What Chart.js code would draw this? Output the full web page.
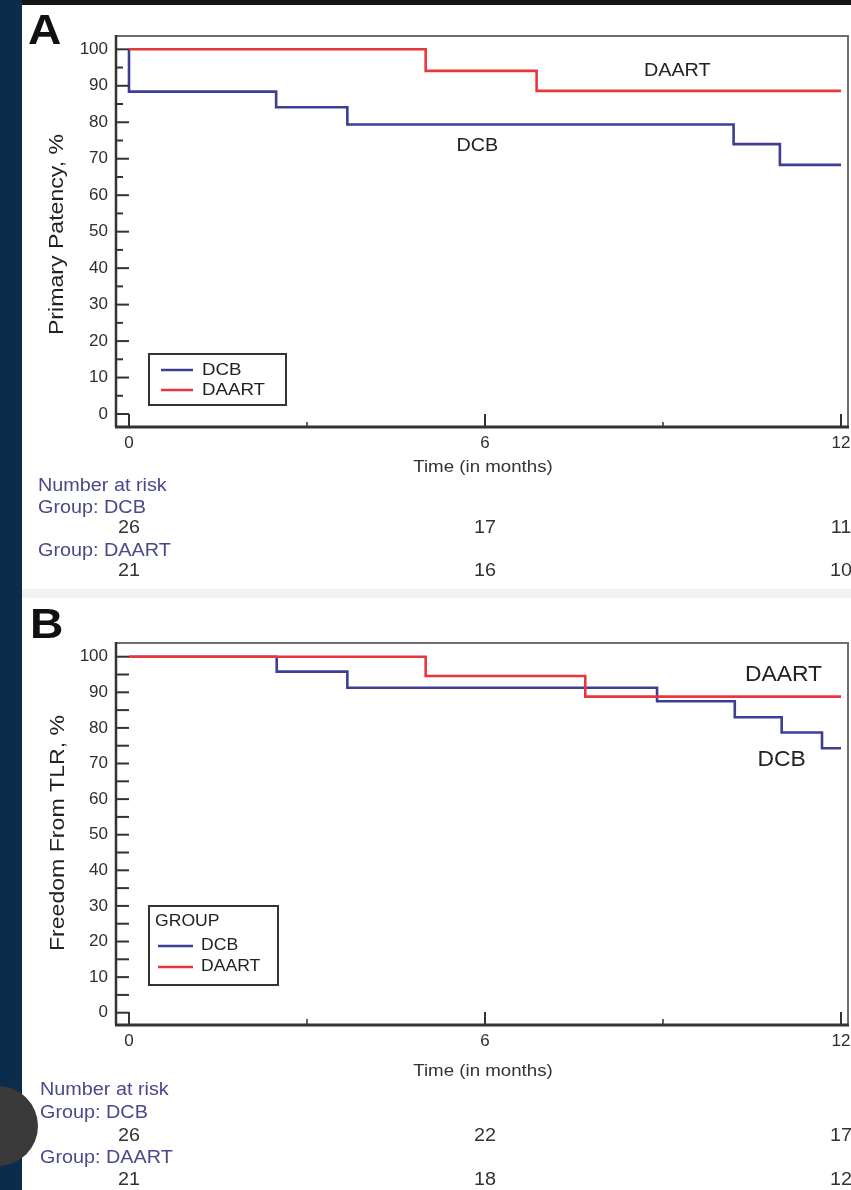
<!DOCTYPE html>
<html>
<head>
<meta charset="utf-8">
<script src="https://cdn.jsdelivr.net/npm/chart.js@4.4.1/dist/chart.umd.min.js"></script>
<style>
html,body{margin:0;padding:0;width:851px;height:1190px;overflow:hidden;background:#fff;}
#topbar{position:absolute;left:0;top:0;width:851px;height:5px;background:#151515;}
#band{position:absolute;left:22px;top:589px;width:829px;height:9px;background:#f2f2f2;}
#side{position:absolute;left:0;top:0;width:22px;height:1190px;background:#0c2c4c;}
#dot{position:absolute;left:-42px;top:1086px;width:80px;height:80px;border-radius:50%;background:#3a3a3a;}
#wa{position:absolute;left:22px;top:5px;width:829px;height:583px;}
#wb{position:absolute;left:22px;top:595px;width:829px;height:595px;}
canvas{display:block;}
</style>
</head>
<body>
<div id="topbar"></div>
<div id="band"></div>
<div id="wa"><canvas id="ca" width="829" height="583"></canvas></div>
<div id="wb"><canvas id="cb" width="829" height="595"></canvas></div>
<div id="side"></div>
<div id="dot"></div>
<script>
// ---------- shared axis values ----------
const xTickValues = [0, 6, 12];
const xMinorValues = [3, 9];
const yTickValues = [0, 10, 20, 30, 40, 50, 60, 70, 80, 90, 100];
const yMinorValues = [5, 15, 25, 35, 45, 55, 65, 75, 85, 95];
const riskTimes = [0, 6, 12];
const groupNames = ['DCB', 'DAART'];

// ---------- Panel A: primary patency ----------
const timeA_DCB = [0, 0, 2.48, 3.68, 10.19, 10.97, 12];
const patencyA_DCB = [100, 88.4, 84.1, 79.4, 74.0, 68.3, 68.3];
const timeA_DAART = [0, 5.0, 6.87, 12];
const patencyA_DAART = [100, 94.1, 88.6, 88.6];
const riskA_DCB = [26, 17, 11];
const riskA_DAART = [21, 16, 10];

// ---------- Panel B: freedom from TLR ----------
const timeB_DCB = [0, 2.49, 3.68, 8.9, 10.21, 11.0, 11.68, 12];
const freedomB_DCB = [100, 95.8, 91.3, 87.5, 83.0, 78.7, 74.3, 74.3];
const timeB_DAART = [0, 5.0, 7.69, 12];
const freedomB_DAART = [100, 94.6, 88.8, 88.8];
const riskB_DCB = [26, 22, 17];
const riskB_DAART = [21, 18, 12];

const BLUE = '#3d3d95';
const RED = '#e8363c';
const FONT = "'Liberation Sans', Arial, sans-serif";
Chart.defaults.font.family = FONT;

function pts(xs, ys) { return xs.map((x, i) => ({ x: x, y: ys[i] })); }

function sText(ctx, txt, x, y, align, sx, font, color) {
  ctx.save();
  ctx.font = font; ctx.fillStyle = color; ctx.textBaseline = 'middle';
  ctx.translate(x, y); ctx.scale(sx, 1);
  ctx.textAlign = align;
  ctx.fillText(txt, 0, 0);
  ctx.restore();
}
function seg(ctx, x1, y1, x2, y2) { ctx.beginPath(); ctx.moveTo(x1, y1); ctx.lineTo(x2, y2); ctx.stroke(); }

const kmDecor = {
  id: 'kmDecor',
  afterDraw(chart, args, o) {
    const ctx = chart.ctx, ca = chart.chartArea, xs = chart.scales.x, ys = chart.scales.y;
    ctx.save();
    ctx.lineCap = 'butt';
    // frame (top/right)
    ctx.strokeStyle = '#6e6e6e'; ctx.lineWidth = 2;
    ctx.beginPath(); ctx.moveTo(ca.left, ca.top); ctx.lineTo(ca.right, ca.top); ctx.lineTo(ca.right, ca.bottom); ctx.stroke();
    // axis lines
    ctx.strokeStyle = '#333'; ctx.lineWidth = 2.5;
    seg(ctx, ca.left, ca.top - 1, ca.left, ca.bottom);
    ctx.lineWidth = 3;
    seg(ctx, ca.left - 1, ca.bottom, ca.right + 1, ca.bottom);
    // y ticks (inward)
    ctx.lineWidth = 2;
    yTickValues.forEach(v => { const y = ys.getPixelForValue(v); seg(ctx, ca.left, y, ca.left + 13, y); });
    yMinorValues.forEach(v => { const y = ys.getPixelForValue(v); seg(ctx, ca.left, y, ca.left + o.yMinorLen, y); });
    // x ticks (upward)
    xTickValues.forEach(v => { const x = xs.getPixelForValue(v); seg(ctx, x, ca.bottom, x, ca.bottom - 13); });
    ctx.lineWidth = 1.5;
    xMinorValues.forEach(v => { const x = xs.getPixelForValue(v); seg(ctx, x, ca.bottom, x, ca.bottom - o.xMinorLen); });

    // panel letter
    sText(ctx, o.letter, o.letterX, o.letterY, 'left', 1.1, 'bold 42px ' + FONT, '#111');
    // y title
    ctx.save();
    ctx.translate(o.yTitleX, (ca.top + ca.bottom) / 2 + o.yTitleDy);
    ctx.rotate(-Math.PI / 2);
    ctx.scale(1.1, 1);
    ctx.font = '21px ' + FONT; ctx.fillStyle = '#222'; ctx.textAlign = 'center'; ctx.textBaseline = 'middle';
    ctx.fillText(o.yTitle, 0, 0);
    ctx.restore();
    // x title
    sText(ctx, 'Time (in months)', xs.getPixelForValue(6) - 2, o.timeY, 'center', 1.1, '17px ' + FONT, '#333');

    // number at risk table
    const rc = '#48488c';
    const rf = '18px ' + FONT;
    sText(ctx, 'Number at risk', o.riskX, o.riskY[0], 'left', 1.1, rf, rc);
    sText(ctx, 'Group: ' + groupNames[0], o.riskX, o.riskY[1], 'left', 1.1, rf, rc);
    o.risk[0].forEach((n, i) => sText(ctx, String(n), xs.getPixelForValue(riskTimes[i]), o.riskY[2], 'center', 1.1, rf, '#333'));
    sText(ctx, 'Group: ' + groupNames[1], o.riskX, o.riskY[3], 'left', 1.1, rf, rc);
    o.risk[1].forEach((n, i) => sText(ctx, String(n), xs.getPixelForValue(riskTimes[i]), o.riskY[4], 'center', 1.1, rf, '#333'));

    // curve labels
    o.labels.forEach(l => sText(ctx, l.text, xs.getPixelForValue(l.t), ys.getPixelForValue(l.v), 'center', 1.04, l.size + 'px ' + FONT, '#222'));

    // legend box
    const L = o.legend;
    ctx.fillStyle = '#fff';
    ctx.fillRect(L.x, L.y, L.w, L.h);
    ctx.strokeStyle = '#333'; ctx.lineWidth = 2;
    ctx.strokeRect(L.x, L.y, L.w, L.h);
    if (L.title) { sText(ctx, L.title, L.titleX, L.titleY, 'left', 1.1, L.size + 'px ' + FONT, '#222'); }
    const ds = chart.data.datasets.slice().sort((a, b) => groupNames.indexOf(a.label) - groupNames.indexOf(b.label));
    ds.forEach((d, i) => {
      const y = L.firstY + i * L.gap;
      ctx.strokeStyle = d.borderColor; ctx.lineWidth = 2.5;
      seg(ctx, L.lineX1, y, L.lineX2, y);
      sText(ctx, d.label, L.textX, y, 'left', 1.1, L.size + 'px ' + FONT, '#222');
    });
    ctx.restore();
  }
};

function makeChart(id, cfg) {
  return new Chart(document.getElementById(id), {
    type: 'line',
    data: {
      datasets: [
        { label: 'DCB', data: pts(cfg.tD, cfg.vD), borderColor: BLUE, order: 2 },
        { label: 'DAART', data: pts(cfg.tR, cfg.vR), borderColor: RED, order: 1 }
      ]
    },
    options: {
      responsive: false,
      devicePixelRatio: 1,
      animation: false,
      events: [],
      layout: { padding: { left: 0, right: 3, top: cfg.top, bottom: 0 } },
      elements: {
        line: { stepped: 'before', borderWidth: 2.6, tension: 0, borderJoinStyle: 'miter', borderCapStyle: 'butt' },
        point: { radius: 0 }
      },
      scales: {
        x: {
          type: 'linear', min: -0.219, max: 12.118,
          afterBuildTicks: s => { s.ticks = xTickValues.map(v => ({ value: v })); },
          afterFit: s => { s.height = cfg.xH; s.paddingLeft = 0; s.paddingRight = 0; },
          grid: { display: false, drawTicks: false },
          border: { display: false },
          ticks: { padding: 6, font: { size: 17, family: FONT }, color: '#2e2e2e', maxRotation: 0, autoSkip: false }
        },
        y: {
          type: 'linear', min: cfg.yMin, max: cfg.yMax,
          afterBuildTicks: s => { s.ticks = yTickValues.map(v => ({ value: v })); },
          afterFit: s => { s.width = 94; s.paddingTop = 0; s.paddingBottom = 0; },
          grid: { display: false, drawTicks: false },
          border: { display: false },
          ticks: { padding: 8, font: { size: 17, family: FONT }, color: '#2e2e2e', autoSkip: false }
        }
      },
      plugins: {
        legend: { display: false },
        tooltip: { enabled: false },
        kmDecor: cfg.decor
      }
    },
    plugins: [kmDecor]
  });
}

makeChart('ca', {
  tD: timeA_DCB, vD: patencyA_DCB, tR: timeA_DAART, vR: patencyA_DAART,
  top: 31, xH: 161, yMin: -3.56, yMax: 103.65,
  decor: {
    letter: 'A', letterX: 6, letterY: 27,
    yTitle: 'Primary Patency, %', yTitleX: 35, yTitleDy: 3,
    timeY: 462, yMinorLen: 7, xMinorLen: 5,
    riskX: 16, riskY: [481, 503, 523, 546, 566],
    risk: [riskA_DCB, riskA_DAART],
    labels: [{ text: 'DAART', t: 9.24, v: 94.0, size: 19 }, { text: 'DCB', t: 5.87, v: 73.5, size: 19 }],
    legend: { x: 127, y: 349, w: 137, h: 51, firstY: 365, gap: 20, lineX1: 139, lineX2: 171, textX: 180, size: 17 }
  }
});

makeChart('cb', {
  tD: timeB_DCB, vD: freedomB_DCB, tR: timeB_DAART, vR: freedomB_DAART,
  top: 48, xH: 165, yMin: -3.45, yMax: 103.85,
  decor: {
    letter: 'B', letterX: 8, letterY: 31,
    yTitle: 'Freedom From TLR, %', yTitleX: 36, yTitleDy: -1,
    timeY: 476, yMinorLen: 13, xMinorLen: 6,
    riskX: 18, riskY: [495, 518, 541, 563, 585],
    risk: [riskB_DCB, riskB_DAART],
    labels: [{ text: 'DAART', t: 11.03, v: 94.9, size: 22 }, { text: 'DCB', t: 11.0, v: 71.0, size: 22 }],
    legend: { x: 127, y: 311, w: 129, h: 79, title: 'GROUP', titleX: 133, titleY: 327, firstY: 351, gap: 21, lineX1: 136, lineX2: 171, textX: 179, size: 16 }
  }
});
</script>
</body>
</html>
